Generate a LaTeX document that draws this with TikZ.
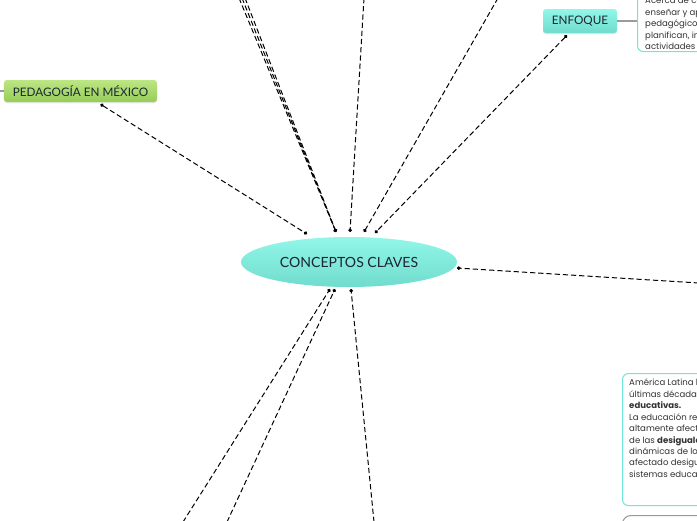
\documentclass[tikz,border=0pt]{standalone}
\usepackage{fontspec}
\setmainfont{Lato}
\newfontfamily\notefont{Poppins}
\usetikzlibrary{arrows.meta,positioning,calc,shapes.geometric,shadows}
\def\wLink{0.85pt}
\definecolor{cAqua}{HTML}{92F7E8}
\definecolor{cAquaDk}{HTML}{70DCCD}
\definecolor{cLeaf}{HTML}{BCE683}
\definecolor{cLeafDk}{HTML}{97CC57}
\definecolor{cInk}{HTML}{1B2733}
\definecolor{cEdge}{HTML}{72E6D6}
\definecolor{cWire}{HTML}{9A9A9A}
\tikzset{
  central/.style={ellipse, top color=cAqua, bottom color=cAquaDk, draw=none, minimum width=6.48cm,
    minimum height=1.5cm, inner sep=0pt, text=cInk, font=\fontsize{12}{14}\selectfont},
  topic/.style={rounded corners=2.5pt, inner sep=0pt, text=cInk, font=\fontsize{10}{12}\selectfont,
    drop shadow={opacity=0.18, shadow xshift=0pt, shadow yshift=-1.2pt}},
  aquatopic/.style={topic, top color=cAqua, bottom color=cAquaDk},
  leaftopic/.style={topic, top color=cLeaf, bottom color=cLeafDk},
  notebox/.style={draw=cEdge, line width=0.9pt, rounded corners=5pt, fill=white, inner sep=0pt, anchor=north west},
  notetext/.style={anchor=north west, inner sep=0pt, align=left, text=black!80,
    font=\notefont\fontsize{7.3}{9.75}\selectfont},
  link/.style={draw=black, line width=\wLink, dash pattern=on 4.5pt off 2.5pt,
    {Circle[length=3pt]}-{Circle[length=3pt]}},
  freelink/.style={draw=black, line width=\wLink, dash pattern=on 4.5pt off 2.5pt, -{Circle[length=3pt]}},
  wire/.style={draw=cWire, line width=0.9pt},
}

\begin{document}
\begin{tikzpicture}[x=0.03cm, y=-0.03cm]
% pixel grid: x to the right, y downwards, frame 697 x 520
\useasboundingbox (0,0) rectangle (697,520);

% ---- main idea
\node[central] (concept) at (349, 262) {CONCEPTOS CLAVES};

% ---- topics
\node[aquatopic, minimum width=2.22cm, minimum height=0.72cm] (enfoque) at (580, 21) {ENFOQUE};
\node[leaftopic, minimum width=4.59cm, minimum height=0.66cm] (pedmex) at (80.5, 91) {PEDAGOGÍA EN MÉXICO};

% ---- notes (cut by the frame)
\node[notebox, minimum width=5cm, minimum height=2.43cm] (enfnote) at (637, -30) {};
\node[notetext] (enftext) at (645, -3) {Acerca de cómo\\ enseñar y aprender\\ pedagógicos\\ planifican, implementan\\ actividades};
\node[notebox, minimum width=4cm, minimum height=3.96cm] (latbox) at (622, 373) {};
\node[notetext] (lattext) at (629, 379) {América Latina ha vivido en las\\ últimas décadas reformas\\ \textbf{educativas.}\\
  La educación regional se ha visto\\ altamente afectada por el contexto\\ de las \textbf{desigualdades} y las\\
  dinámicas de lo social que han\\ afectado desigualmente a los\\ sistemas educativos.};
\node[draw=cWire, line width=0.9pt, rounded corners=7pt, minimum width=4cm, minimum height=1cm,
      inner sep=0pt, anchor=north west] (nextbox) at (622, 515) {};

% ---- free ends outside the frame
\coordinate (outA) at (239, -2);
\coordinate (outB) at (242, -2);
\coordinate (outC) at (245, -2);
\coordinate (outD) at (364, -2);
\coordinate (outE) at (498, -2);
\coordinate (outR) at (699, 283);
\coordinate (outS) at (183, 522);
\coordinate (outT) at (227, 522);
\coordinate (outU) at (374, 522);
\coordinate (outL) at (-5, 91);

% ---- links to the main idea
\draw[link] ($(pedmex.south)+(20,2)$) -- ($(concept.center)+(-42,-28)$);
\draw[link] ($(enfoque.south)+(-13,2)$) -- ($(concept.center)+(26,-29)$);
\draw[freelink] (outA) -- ($(concept.center)+(-13,-30)$);
\draw[freelink] (outB) -- ($(concept.center)+(-13,-30)$);
\draw[freelink] (outC) -- ($(concept.center)+(-13,-30)$);
\draw[freelink] (outD) -- ($(concept.center)+(1,-30)$);
\draw[freelink] (outE) -- ($(concept.center)+(15,-30)$);
\draw[freelink] (outR) -- ($(concept.center)+(108,6)$);
\draw[freelink] (outS) -- ($(concept.center)+(-19,27)$);
\draw[freelink] (outT) -- ($(concept.center)+(-14,27)$);
\draw[freelink] (outU) -- ($(concept.center)+(2,27)$);

% ---- plain wires
\draw[wire] (enfoque.east) -- (enfoque.east -| enfnote.west);
\draw[wire] (outL) -- (pedmex.west);
\end{tikzpicture}
\end{document}
